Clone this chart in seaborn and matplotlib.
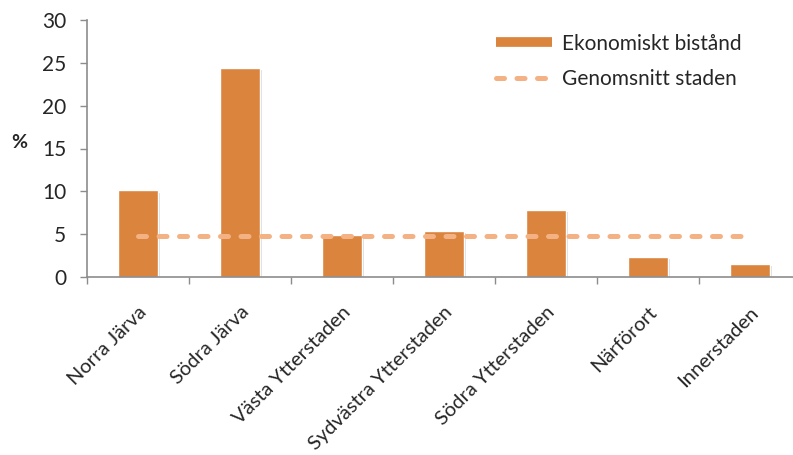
import matplotlib
matplotlib.use("Agg")
import matplotlib.pyplot as plt
import matplotlib.patheffects as pe
from matplotlib.lines import Line2D
import seaborn as sns
import pandas as pd

# Andel med ekonomiskt bistånd per stadsdelsområde (%)
areas = ["Norra Järva", "Södra Järva", "Västa Ytterstaden", "Sydvästra Ytterstaden",
         "Södra Ytterstaden", "Närförort", "Innerstaden"]
bistand = [10.1, 24.4, 4.9, 5.4, 7.8, 2.3, 1.5]
snitt_staden = 4.8
y_ticks = [0, 5, 10, 15, 20, 25, 30]

bar_color = "#DB843D"
avg_color = "#F4B183"
axis_color = "#8C8C8C"

sns.set_style("white")
plt.rcParams["font.family"] = ["Lato", "DejaVu Sans"]

df = pd.DataFrame({"område": areas, "andel": bistand})

fig = plt.figure(figsize=(7.93, 4.55), dpi=100)
ax = fig.add_axes([87 / 793, 1 - 277 / 455, 714 / 793, 257 / 455])

sns.barplot(data=df, x="område", y="andel", color=bar_color, saturation=1,
            width=0.39, edgecolor="white", linewidth=1.0, ax=ax)
for p in ax.patches:
    p.set_path_effects([pe.SimplePatchShadow(offset=(1.5, -1.5), shadow_rgbFace="#9a9a9a", alpha=0.35),
                        pe.Normal()])

ax.plot([0, len(areas) - 1], [snitt_staden, snitt_staden], color=avg_color, lw=3.6,
        dashes=(1.6, 2.5), dash_capstyle="round", zorder=3)

ax.set_xlim(-0.5, len(areas) - 0.5)
ax.set_ylim(0, 30)
ax.set_yticks(y_ticks)
ax.set_yticklabels([str(t) for t in y_ticks], fontsize=15)

# category boundary ticks on the x axis
ax.set_xticks([i - 0.5 for i in range(len(areas) + 1)], minor=False)
ax.set_xticklabels([""] * (len(areas) + 1))
ax.set_xticks(range(len(areas)), minor=True)
ax.set_xticklabels(areas, minor=True, rotation=45, ha="right", va="top",
                   rotation_mode="anchor", fontsize=14.5)
ax.tick_params(axis="x", which="minor", bottom=True, length=0, pad=19)
ax.tick_params(axis="x", which="major", bottom=True, length=5, width=1,
               color=axis_color, direction="out")
ax.tick_params(axis="y", left=True, length=5, width=1, color=axis_color,
               direction="out", pad=10)

ax.set_xlabel("")
ax.set_ylabel("%", rotation=0, fontsize=14, fontweight="bold", va="center", ha="center")
ax.yaxis.set_label_coords(-68 / 714, 1 - 142 / 257 + 20 / 257)

for side in ["top", "right"]:
    ax.spines[side].set_visible(False)
for side in ["left", "bottom"]:
    ax.spines[side].set_color(axis_color)
    ax.spines[side].set_linewidth(1.2)

handles = [
    Line2D([0], [0], color=bar_color, lw=7, solid_capstyle="butt"),
    Line2D([0], [0], color=avg_color, lw=3.6, dashes=(1.6, 2.5), dash_capstyle="round"),
]
fig.legend(handles, ["Ekonomiskt bistånd", "Genomsnitt staden"], loc="upper left",
           bbox_to_anchor=(477 / 793, 1 - 15 / 455), frameon=False, fontsize=15,
           handlelength=2.7, handletextpad=0.5, labelspacing=0.75)

fig.savefig("out.png", dpi=100)
